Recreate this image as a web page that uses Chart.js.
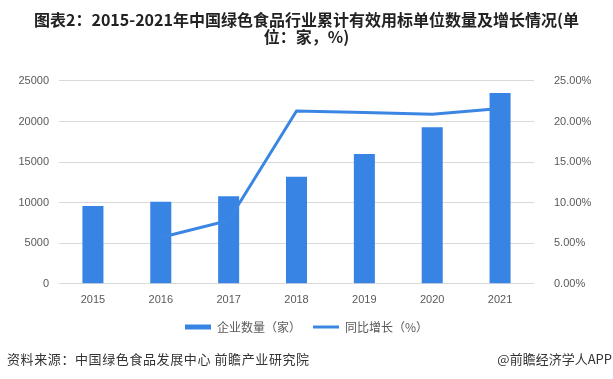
<!DOCTYPE html>
<html>
<head>
<meta charset="utf-8">
<script src="https://cdn.jsdelivr.net/npm/chart.js@4"></script>
<style>
  html, body { margin: 0; padding: 0; background: #fff; }
  #wrap { position: relative; width: 613px; height: 379px; }
  .note { position: absolute; top: 349px; font: 13px "Noto Sans CJK SC", sans-serif; color: #333; white-space: nowrap; }
</style>
</head>
<body>
<div id="wrap">
  <canvas id="myChart" width="613" height="379"></canvas>
  <div class="note" style="left:7px; letter-spacing:0.6px;">资料来源：中国绿色食品发展中心 前瞻产业研究院</div>
  <div class="note" style="right:1px;">@前瞻经济学人APP</div>
</div>
<script>
'use strict';

const years = ['2015', '2016', '2017', '2018', '2019', '2020', '2021'];
const companyCount = [9600, 10100, 10800, 13200, 16000, 19300, 23500];
const growthRate = [null, 5.7, 7.8, 21.3, 21.1, 20.9, 21.6];
const leftTicks = [0, 5000, 10000, 15000, 20000, 25000];

const blue = '#3784e5';
const textGray = '#595959';
const cjk = '"Noto Sans CJK SC", sans-serif';

const ctx = document.getElementById('myChart').getContext('2d');
const chart = new Chart(ctx, {
  data: {
    labels: years,
    datasets: [{
      type: 'bar',
      label: '企业数量（家）',
      data: companyCount,
      backgroundColor: blue,
      yAxisID: 'y',
      barPercentage: 0.31,
      categoryPercentage: 1,
      order: 2
    },
    {
      type: 'line',
      label: '同比增长（%）',
      data: growthRate,
      borderColor: '#3b86e3',
      borderWidth: 3,
      pointRadius: 0,
      tension: 0,
      yAxisID: 'y1',
      order: 1
    }]
  },
  options: {
    responsive: false,
    animation: false,
    layout: { padding: { bottom: 36, right: 0, left: 0 } },
    plugins: {
      tooltip: { enabled: false },
      title: {
        display: true,
        text: ['图表2：2015-2021年中国绿色食品行业累计有效用标单位数量及增长情况(单', '位：家，%)'],
        color: '#222',
        font: { family: cjk, size: 16, weight: 'bold', lineHeight: 1.06 },
        padding: { top: 11, bottom: 36 }
      },
      legend: {
        position: 'bottom',
        labels: {
          color: textGray,
          font: { family: cjk, size: 12 },
          usePointStyle: true,
          boxHeight: 5,
          pointStyleWidth: 26,
          padding: 12,
          generateLabels: function() {
            return [
              { text: '企业数量（家）', fillStyle: blue, strokeStyle: blue, lineWidth: 0, pointStyle: 'rect', fontColor: textGray, datasetIndex: 0 },
              { text: '同比增长（%）', fillStyle: blue, strokeStyle: '#3b86e3', lineWidth: 3, pointStyle: 'line', fontColor: textGray, datasetIndex: 1 }
            ];
          }
        }
      }
    },
    scales: {
      x: {
        grid: { display: false },
        border: { display: false },
        ticks: { color: textGray, font: { size: 11 }, padding: 2 }
      },
      y: {
        position: 'left',
        min: 0,
        max: 25000,
        afterBuildTicks: function(axis) { axis.ticks = leftTicks.map(v => ({ value: v })); },
        afterFit: function(axis) { axis.width = 59; },
        grid: { color: '#d9d9d9', drawTicks: false },
        border: { display: false },
        ticks: {
          color: textGray,
          font: { size: 11 },
          padding: 10,
          callback: function(v) { return String(v); }
        }
      },
      y1: {
        position: 'right',
        min: 0,
        max: 25,
        afterFit: function(axis) { axis.width = 79; },
        grid: { display: false },
        border: { display: false },
        ticks: {
          stepSize: 5,
          color: textGray,
          font: { size: 11 },
          padding: 12,
          callback: function(v) { return v.toFixed(2) + '%'; }
        }
      }
    }
  }
});
</script>
</body>
</html>
